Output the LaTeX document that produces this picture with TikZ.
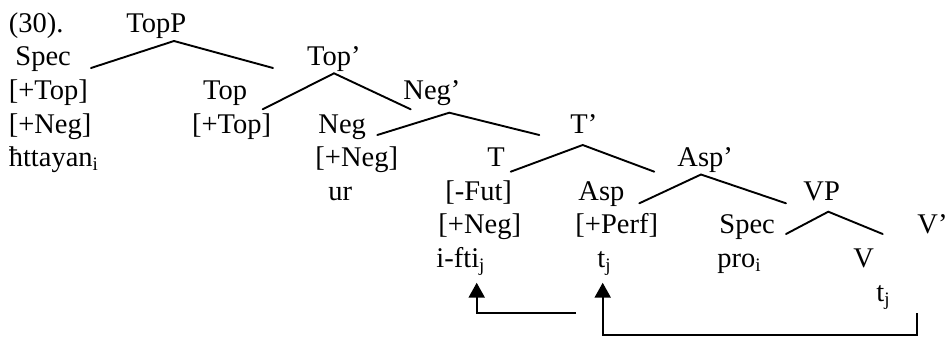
\documentclass[tikz,border=0pt]{standalone}
\usepackage{fontspec}
\setmainfont{Liberation Serif}
\usetikzlibrary{arrows.meta}

\begin{document}
\begin{tikzpicture}[
    x=0.421pt, y=-0.421pt,
    lbl/.style={anchor=base west, inner sep=0pt, font=\fontsize{12pt}{14pt}\selectfont},
    branch/.style={line width=0.8pt, line cap=round},
    arrow/.style={-{Triangle[length=6.3pt, width=6.7pt]}, line width=1pt}
]
\useasboundingbox (0,0) rectangle (946,336);

% Example number and root
\node[lbl] (ex) at (8.3,32.3) {(30).};
\node[lbl] (topp) at (126,32.3) {TopP};

% Specifier of TopP
\node[lbl] (spec1) at (15,65.9) {Spec};
\node[lbl] (spec1top) at (8.3,99.5) {[+Top]};
\node[lbl] (spec1neg) at (8.3,133.1) {[+Neg]};
\node[lbl] (httayan) at (8.3,166.7) {ħttayan\textsubscript{i}};

% Top head
\node[lbl] (topbar) at (306.7,65.9) {Top’};
\node[lbl] (top) at (202.7,99.5) {Top};
\node[lbl] (toptop) at (191.7,133.1) {[+Top]};

% Neg head
\node[lbl] (negbar) at (403,99.5) {Neg’};
\node[lbl] (neg) at (318,133.1) {Neg};
\node[lbl] (negneg) at (315,166.7) {[+Neg]};
\node[lbl] (ur) at (328,200.3) {ur};

% T head
\node[lbl] (tbar) at (570,133.1) {T’};
\node[lbl] (t) at (487,166.7) {T};
\node[lbl] (tfut) at (445,200.3) {[-Fut]};
\node[lbl] (tneg) at (438,233.9) {[+Neg]};
\node[lbl] (ifti) at (436,267.5) {i-fti\textsubscript{j}};

% Asp head
\node[lbl] (aspbar) at (677,166.7) {Asp’};
\node[lbl] (asp) at (578,200.3) {Asp};
\node[lbl] (aspperf) at (575,233.9) {[+Perf]};
\node[lbl] (asptrace) at (597,267.5) {t\textsubscript{j}};

% VP
\node[lbl] (vp) at (803,200.3) {VP};
\node[lbl] (spec2) at (719,233.9) {Spec};
\node[lbl] (pro) at (717,267.5) {pro\textsubscript{i}};
\node[lbl] (vbar) at (917,233.9) {V’};
\node[lbl] (v) at (853,267.5) {V};
\node[lbl] (vtrace) at (876,301.1) {t\textsubscript{j}};

% Branch points
\coordinate (topp-l) at (91,68);
\coordinate (topp-a) at (174,41);
\coordinate (topp-r) at (273,68);
\coordinate (topbar-l) at (262.7,109.3);
\coordinate (topbar-a) at (334,73.3);
\coordinate (topbar-r) at (410.7,109.3);
\coordinate (negbar-l) at (377.3,135);
\coordinate (negbar-a) at (449.3,112.7);
\coordinate (negbar-r) at (539.3,135);
\coordinate (tbar-l) at (510.7,171.7);
\coordinate (tbar-a) at (582.7,145);
\coordinate (tbar-r) at (654.3,171.7);
\coordinate (aspbar-l) at (639.3,203.3);
\coordinate (aspbar-a) at (701,174.5);
\coordinate (aspbar-r) at (786,203.3);
\coordinate (vp-l) at (786,234);
\coordinate (vp-a) at (828.3,211.7);
\coordinate (vp-r) at (882.7,234);

% Branches
\draw[branch] (topp-l) -- (topp-a) -- (topp-r);
\draw[branch] (topbar-l) -- (topbar-a) -- (topbar-r);
\draw[branch] (negbar-l) -- (negbar-a) -- (negbar-r);
\draw[branch] (tbar-l) -- (tbar-a) -- (tbar-r);
\draw[branch] (aspbar-l) -- (aspbar-a) -- (aspbar-r);
\draw[branch] (vp-l) -- (vp-a) -- (vp-r);

% Movement arrows
\coordinate (move1) at (576,312.7);
\coordinate (ifti-tip) at (476.7,282.7);
\coordinate (move2) at (916.7,313);
\coordinate (move2-low) at (916.7,335);
\coordinate (asptrace-tip) at (602.7,282.7);
\draw[arrow] (move1) -| (ifti-tip);
\draw[arrow] (move2) -- (move2-low) -| (asptrace-tip);

\end{tikzpicture}
\end{document}
